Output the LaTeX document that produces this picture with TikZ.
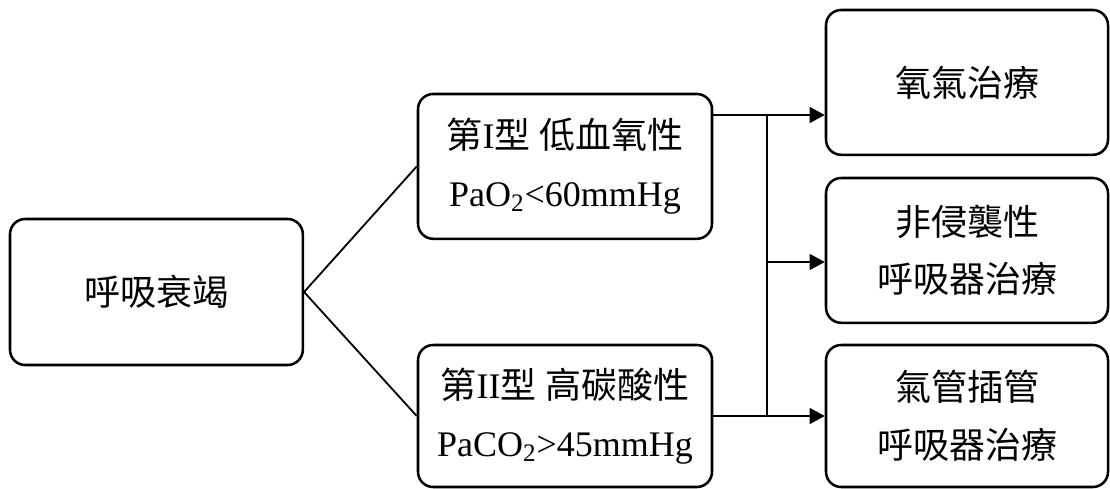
\documentclass[tikz,border=0pt]{standalone}
\usepackage{fontspec}
\setmainfont{Liberation Serif}
\newfontfamily\cjk{Noto Sans CJK TC}
\usetikzlibrary{arrows.meta}

\begin{document}
\begin{tikzpicture}[
  %% style definitions
  box/.style   = {draw, rounded corners=0.38cm, line width=1.8pt,
                  minimum width=7.3cm, minimum height=3.6cm,
                  align=center, inner sep=2pt,
                  font=\fontsize{25.6pt}{41pt}\selectfont},
  srcbox/.style = {box, minimum width=7.32cm, minimum height=3.65cm},
  typbox/.style = {box, minimum width=7.35cm},
  txbox/.style  = {box, minimum width=7.05cm},
  conn/.style  = {line width=1.3pt},
  arr/.style   = {-{Triangle[length=0.38cm,width=0.4cm]}, line width=1.3pt},
]
\useasboundingbox (0,0) rectangle (27.75,12.2);

%% ── Source node ─────────────────────────────────────────────────────────────
\node[srcbox] (resp) at (3.91,4.9) {\cjk 呼吸衰竭};

%% ── Failure types ───────────────────────────────────────────────────────────
\node[typbox, minimum height=3.62cm] (typeI) at (14.125,8.04)
  {{\cjk 第}I{\cjk 型} {\cjk 低血氧性}\\PaO\textsubscript{2}<60mmHg};
\node[typbox, minimum height=3.55cm] (typeII) at (14.125,1.8)
  {{\cjk 第}II{\cjk 型} {\cjk 高碳酸性}\\PaCO\textsubscript{2}>45mmHg};

%% ── Treatments ──────────────────────────────────────────────────────────────
\node[txbox, minimum height=3.62cm] (oxy)   at (24.175,10.14) {\cjk 氧氣治療};
\node[txbox, minimum height=3.62cm] (niv)   at (24.175,5.94)
  {\cjk 非侵襲性\\\cjk 呼吸器治療};
\node[txbox, minimum height=3.55cm] (intub) at (24.175,1.8)
  {\cjk 氣管插管\\\cjk 呼吸器治療};

%% ── Connectors ──────────────────────────────────────────────────────────────
\coordinate (j1) at (19.175,9.325);
\coordinate (j2) at (19.175,5.65);
\coordinate (j3) at (19.175,1.8);

\draw[conn] (resp.east) -- (typeI.west);
\draw[conn] (resp.east) -- (typeII.west);
\draw[conn] (typeI.east |- j1) -- (j1) -- (j3);
\draw[conn] (typeII.east) -- (j3);
\draw[arr]  (j1) -- (oxy.west |- j1);
\draw[arr]  (j2) -- (niv.west |- j2);
\draw[arr]  (j3) -- (intub.west |- j3);

\end{tikzpicture}
\end{document}
